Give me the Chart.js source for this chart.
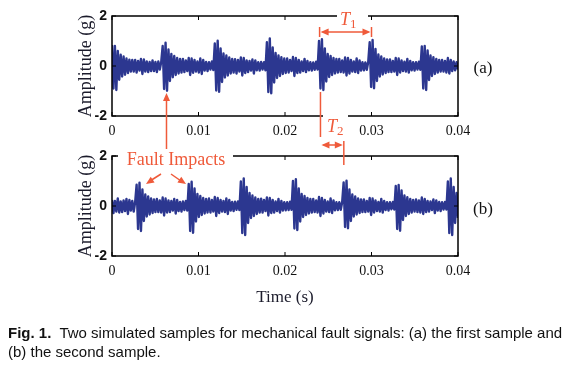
<!DOCTYPE html>
<html>
<head>
<meta charset="utf-8">
<script src="https://cdn.jsdelivr.net/npm/chart.js@4.4.1/dist/chart.umd.min.js"></script>
<style>
  body { margin: 0; background: #fff; }
  #wrap { position: relative; width: 569px; height: 375px; overflow: hidden; }
  canvas { position: absolute; left: 0; top: 0; }
  #caption {
    position: absolute; left: 8px; top: 323px;
    font: 15px "Liberation Sans", Arial, sans-serif; line-height: 19px;
    color: #111; white-space: nowrap;
  }
</style>
</head>
<body>
<div id="wrap">
  <canvas id="chartA" width="569" height="320"></canvas>
  <canvas id="chartB" width="569" height="320"></canvas>
  <div id="caption"><b>Fig. 1.</b>&nbsp; Two simulated samples for mechanical fault signals: (a) the first sample and<br>(b) the second sample.</div>
</div>
<script>
// amplitudes, in hundredths of g, 240 evenly spaced samples over 0..0.04 s
const sampleA = [
  84,-90,80,-96,60,-55,45,-42,38,-35,30,-28,25,-22,24,-22,
  24,-26,20,-18,28,-32,26,-22,18,-24,16,-20,22,-20,16,-24,18,-14,16,
  80,-92,93,-99,66,-60,48,-45,40,-36,32,-30,28,-26,
  28,-24,22,-20,32,-36,30,-27,24,-22,18,-26,30,-32,24,-18,16,-20,15,-14,18,-16,
  90,-98,101,-103,70,-64,50,-46,42,-38,34,-30,28,-26,
  27,-30,24,-22,34,-38,32,-28,22,-24,20,-18,26,-30,22,-17,15,-18,16,-14,15,-17,
  95,-104,110,-109,74,-66,52,-48,42,-40,35,-32,30,-28,
  30,-26,24,-20,36,-40,32,-28,24,-26,18,-20,28,-24,20,-17,15,-18,14,-15,17,-14,
  100,-90,107,-96,70,-62,48,-44,40,-36,32,-30,28,-26,
  28,-24,22,-26,34,-38,32,-30,24,-22,18,-24,30,-28,22,-18,15,-17,14,-15,17,
  95,-84,104,-89,68,-60,46,-42,38,-34,30,-28,26,-24,
  26,-24,20,-22,32,-36,30,-26,22,-20,17,-22,28,-26,20,-17,15,-18,15,-14,17,-15,
  78,-90,80,-96,62,-56,42,-40,35,-32,28,-26,24,-22,
  24,-22,20,-26,32,-30,24,-20,18,-17,15,-14
];
const sampleB = [
  24,-28,20,-22,30,-26,18,-24,22,-20,28,-32,24,-18,20,-22,16,
  85,-92,93,-100,66,-60,46,-42,38,-34,30,-28,26,-24,
  28,-24,22,-26,34,-38,30,-26,22,-24,20,-18,28,-30,24,-20,16,-22,18,-16,20,-18,
  88,-100,97,-107,70,-62,48,-44,40,-36,32,-30,28,-26,
  30,-26,24,-22,36,-40,32,-28,24,-22,20,-24,30,-32,24,-18,16,-20,17,-15,18,-16,
  98,-108,110,-116,76,-68,52,-48,42,-40,34,-32,28,-26,
  29,-26,24,-20,34,-38,32,-28,24,-26,18,-20,28,-26,20,-18,15,-17,15,-16,17,-15,
  100,-90,107,-96,70,-62,48,-44,40,-36,32,-30,28,-26,
  28,-24,22,-26,36,-40,32,-30,24,-22,18,-24,30,-28,22,-17,15,-16,15,-15,16,
  94,-84,101,-89,66,-60,46,-42,38,-34,30,-28,26,-24,
  26,-24,20,-22,32,-36,30,-26,22,-20,16,-22,28,-26,20,-16,15,-18,15,-13,16,-14,
  80,-92,84,-99,62,-56,42,-40,35,-32,28,-26,24,-22,
  26,-24,22,-26,34,-32,28,-24,20,-22,18,-16,26,-28,22,-18,16,-20,15,-14,16,-14,
  98,-108,110,-116,76,-68,52,-48
];
const T_END = 0.04;
const xTicks = ['0', '0.01', '0.02', '0.03', '0.04'];
const yTicks = ['-2', '0', '2'];

const SIGNAL = '#2c3790';
const RED = '#ef5a3a';
const INK = '#111';

const toPoints = vals => vals.map((v, i) => ({ x: i * T_END / (vals.length - 1), y: v / 100 }));

// box around the plot with small inward ticks, like the original figure
const frame = {
  id: 'frame',
  afterDatasetsDraw(chart) {
    const { ctx, chartArea: a, scales } = chart;
    ctx.save();
    ctx.strokeStyle = '#000';
    ctx.lineWidth = 1.5;
    ctx.strokeRect(a.left, a.top, a.right - a.left, a.bottom - a.top);
    ctx.lineWidth = 1;
    ctx.beginPath();
    xTicks.forEach(t => {
      const x = scales.x.getPixelForValue(+t);
      ctx.moveTo(x, a.top); ctx.lineTo(x, a.top + 4);
      ctx.moveTo(x, a.bottom); ctx.lineTo(x, a.bottom - 4);
    });
    yTicks.forEach(t => {
      const y = scales.y.getPixelForValue(+t);
      ctx.moveTo(a.left, y); ctx.lineTo(a.left + 4, y);
      ctx.moveTo(a.right, y); ctx.lineTo(a.right - 4, y);
    });
    ctx.stroke();
    ctx.restore();
  }
};

function head(ctx, x1, y1, x2, y2) {
  const ang = Math.atan2(y2 - y1, x2 - x1);
  const len = 8, w = 3.5;
  ctx.beginPath();
  ctx.moveTo(x2, y2);
  ctx.lineTo(x2 - len * Math.cos(ang) + w * Math.sin(ang), y2 - len * Math.sin(ang) - w * Math.cos(ang));
  ctx.lineTo(x2 - len * Math.cos(ang) - w * Math.sin(ang), y2 - len * Math.sin(ang) + w * Math.cos(ang));
  ctx.closePath();
  ctx.fill();
}

function line(ctx, x1, y1, x2, y2) {
  ctx.beginPath(); ctx.moveTo(x1, y1); ctx.lineTo(x2, y2); ctx.stroke();
}

function period(ctx, x, y, sub) {
  ctx.font = 'italic 18px "Liberation Serif", serif';
  ctx.fillText('T', x, y);
  const w = ctx.measureText('T').width;
  ctx.font = '13px "Liberation Serif", serif';
  ctx.fillText(sub, x + w, y + 3);
}

// red annotations and panel labels, drawn on the top canvas
const notes = {
  id: 'notes',
  afterDraw(chart) {
    const { ctx } = chart;
    const xs = v => chart.scales.x.getPixelForValue(v);
    ctx.save();
    // white gaps behind text that sits on the axis frames
    ctx.fillStyle = '#fff';
    ctx.fillRect(337, 9, 31, 14);
    ctx.fillRect(323, 112, 25, 10);
    ctx.fillRect(118, 150, 115, 12);

    ctx.strokeStyle = RED;
    ctx.fillStyle = RED;
    ctx.lineWidth = 1.5;
    ctx.textBaseline = 'alphabetic';

    // T1 between two impacts of sample (a)
    const t1a = xs(0.0240), t1b = xs(0.0300);
    line(ctx, t1a, 27, t1a, 37);
    line(ctx, t1b, 27, t1b, 37);
    line(ctx, t1a + 3, 32, t1b - 3, 32);
    head(ctx, t1b - 8, 32, t1b - 1, 32);
    head(ctx, t1a + 8, 32, t1a + 1, 32);
    period(ctx, 340, 25, '1');

    // T2 shift between the samples
    const t2a = xs(0.0241), t2b = xs(0.0268);
    line(ctx, t2a, 92, t2a, 137);
    line(ctx, t2b, 141, t2b, 165);
    line(ctx, t2a + 3, 145, t2b - 3, 145);
    head(ctx, t2b - 8, 145, t2b - 1, 145);
    head(ctx, t2a + 8, 145, t2a + 1, 145);
    period(ctx, 327, 132, '2');

    // Fault Impacts
    const fx = xs(0.0063);
    line(ctx, fx, 149, fx, 100);
    head(ctx, fx, 110, fx, 93);
    line(ctx, 161, 174, 150, 181);
    head(ctx, 161, 174, 146, 184);
    line(ctx, 171, 174, 181, 181);
    head(ctx, 171, 174, 186, 184);
    ctx.font = '18px "Liberation Serif", serif';
    ctx.textAlign = 'center';
    ctx.textBaseline = 'middle';
    ctx.fillText('Fault Impacts', 176, 160);

    // panel tags
    ctx.fillStyle = INK;
    ctx.font = '17px "Liberation Serif", serif';
    ctx.fillText('(a)', 483, 69);
    ctx.fillText('(b)', 483, 210);
    ctx.restore();
  }
};

function makeChart(id, values, padTop, padBottom, xHeight, withTitle, extra) {
  return new Chart(document.getElementById(id), {
    type: 'line',
    data: {
      datasets: [{
        data: toPoints(values),
        borderColor: SIGNAL,
        borderWidth: 2.4,
        borderJoinStyle: 'round',
        pointRadius: 0,
        tension: 0
      }]
    },
    options: {
      responsive: false,
      animation: false,
      events: [],
      layout: { padding: { top: padTop, bottom: padBottom, left: 0, right: 111 } },
      plugins: { legend: { display: false }, tooltip: { enabled: false } },
      scales: {
        x: {
          type: 'linear', min: 0, max: T_END,
          grid: { display: false, drawTicks: false },
          border: { display: false },
          ticks: {
            stepSize: 0.01, padding: 7, maxRotation: 0, color: INK,
            font: { family: '"Liberation Serif", serif', size: 14 },
            callback: (v, i) => xTicks[i]
          },
          title: {
            display: withTitle, text: 'Time (s)', color: '#1b1b2b',
            font: { family: '"Liberation Serif", serif', size: 17 },
            padding: 0
          },
          afterFit: s => { s.height = xHeight; }
        },
        y: {
          min: -2, max: 2,
          grid: { display: false, drawTicks: false },
          border: { display: false },
          ticks: {
            stepSize: 2, padding: 5, color: INK,
            font: { family: '"Liberation Sans", Arial, sans-serif', size: 14, weight: 'bold' },
            callback: (v, i) => yTicks[i]
          },
          title: {
            display: true, text: 'Amplitude (g)', color: '#1b1b2b',
            font: { family: '"Liberation Serif", serif', size: 18 },
            padding: { top: 75, bottom: 0 }
          },
          afterFit: s => { s.width = 112; }
        }
      }
    },
    plugins: [frame].concat(extra)
  });
}

const chartA = makeChart('chartA', sampleA, 16, 180, 24, false, []);
const chartB = makeChart('chartB', sampleB, 156, 12, 52, true, [notes]);
</script>
</body>
</html>
